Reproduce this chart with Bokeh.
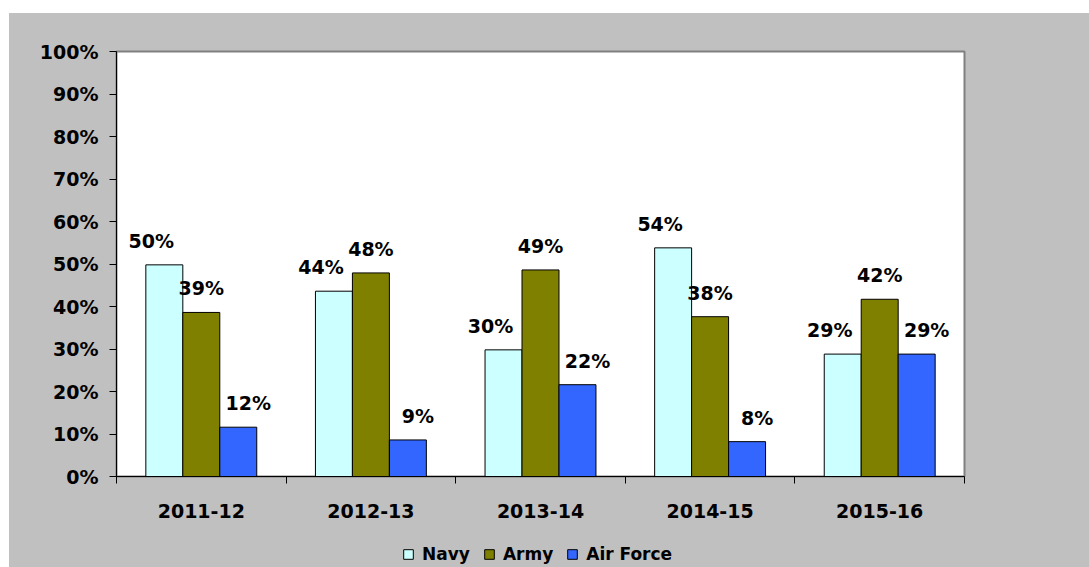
import numpy as np
from bokeh.plotting import figure
from bokeh.layouts import column
from bokeh.models import Range1d, FixedTicker, ColumnDataSource, Legend, LegendItem
from bokeh.transform import dodge
from bokeh.core.properties import value
from bokeh.embed import file_html
from bokeh.resources import INLINE

years = ["2011-12", "2012-13", "2013-14", "2014-15", "2015-16"]
navy = [49.8, 43.6, 29.8, 53.8, 28.8]
army = [38.6, 47.9, 48.6, 37.6, 41.7]
air_force = [11.6, 8.6, 21.6, 8.2, 28.8]
series_names = ["Navy", "Army", "Air Force"]
y_ticks = [0, 10, 20, 30, 40, 50, 60, 70, 80, 90, 100]

colors = ["#CCFFFF", "#808000", "#3366FF"]
GRAY = "#C0C0C0"
FONT = value("DejaVu Sans")

centers = [i + 0.5 for i in range(len(years))]
bounds = [i for i in range(len(years) + 1)]

src = ColumnDataSource(dict(
    x=centers,
    navy=navy, army=army, air_force=air_force,
    navy_lbl=[f"{v:.0f}%" for v in navy],
    army_lbl=[f"{v:.0f}%" for v in army],
    air_force_lbl=[f"{v:.0f}%" for v in air_force],
))

p = figure(width=1080, height=517, output_backend="svg", toolbar_location=None,
           x_range=Range1d(0, len(years)), y_range=Range1d(0, 100),
           min_border_left=107, min_border_right=125, min_border_top=38, min_border_bottom=54)
p.border_fill_color = GRAY
p.background_fill_color = "white"
p.outline_line_color = "#808080"
p.outline_line_width = 2
p.xgrid.visible = False
p.ygrid.visible = False

bw = 0.218
cols = ["navy", "army", "air_force"]
offsets = [-bw, 0.0, bw]
lbl_dx = [-13, 0, 10]
for col, off, c, dx in zip(cols, offsets, colors, lbl_dx):
    p.vbar(x=dodge("x", off, range=p.x_range), top=col, bottom=0, width=bw, source=src,
           fill_color=c, line_color="#000000", line_width=1)
    p.text(x=dodge("x", off, range=p.x_range), y=col, text=col + "_lbl", source=src,
           text_align="center", text_baseline="bottom", x_offset=dx, y_offset=-13,
           text_font=FONT, text_font_style="bold", text_font_size="19px", text_color="#000000")

# y axis
ya = p.yaxis[0]
ya.ticker = FixedTicker(ticks=y_ticks)
ya.major_label_overrides = {t: f"{t}%" for t in y_ticks}
ya.major_tick_out = 7
ya.major_tick_in = 0
ya.minor_tick_out = 0
ya.minor_tick_in = 0
ya.axis_line_color = "#000000"
ya.major_tick_line_color = "#000000"
ya.major_label_standoff = 11
ya.major_label_text_font = "DejaVu Sans"
ya.major_label_text_font_style = "bold"
ya.major_label_text_font_size = "19px"
ya.major_label_text_color = "#000000"

# x axis
xa = p.xaxis[0]
xa.ticker = FixedTicker(ticks=centers, minor_ticks=bounds)
xa.major_label_overrides = {c: y for c, y in zip(centers, years)}
xa.major_tick_out = 0
xa.major_tick_in = 0
xa.minor_tick_out = 7
xa.minor_tick_in = 0
xa.minor_tick_line_color = "#000000"
xa.axis_line_color = "#000000"
xa.major_label_standoff = 20
xa.major_label_text_font = "DejaVu Sans"
xa.major_label_text_font_style = "bold"
xa.major_label_text_font_size = "19px"
xa.major_label_text_color = "#000000"

# legend strip
lf = figure(width=1080, height=37, output_backend="svg", toolbar_location=None,
            x_range=Range1d(0, 1), y_range=Range1d(0, 1), x_axis_type=None, y_axis_type=None,
            min_border_left=0, min_border_right=0, min_border_top=0, min_border_bottom=0)
lf.border_fill_color = GRAY
lf.background_fill_alpha = 0
lf.outline_line_color = None
lf.xgrid.visible = False
lf.ygrid.visible = False
lrs = []
for c in colors:
    lrs.append(lf.vbar(x=np.array([np.nan]), top=np.array([np.nan]), width=0.1,
                       fill_color=c, line_color="#000000", line_width=1))
legend = Legend(items=[LegendItem(label=n, renderers=[r]) for n, r in zip(series_names, lrs)],
                orientation="horizontal", location=(286, 3),
                border_line_alpha=0, background_fill_alpha=0,
                label_text_font="DejaVu Sans", label_text_font_style="bold",
                label_text_font_size="17px", label_text_color="#000000",
                glyph_width=12, glyph_height=12, label_standoff=8, spacing=13,
                padding=0, margin=0, label_height=16)
lf.add_layout(legend, "center")

layout = column(p, lf, spacing=0)
layout.margin = (13, 0, 0, 9)
layout.styles = {"background-color": GRAY}

open("out.html", "w").write(file_html(layout, INLINE))
